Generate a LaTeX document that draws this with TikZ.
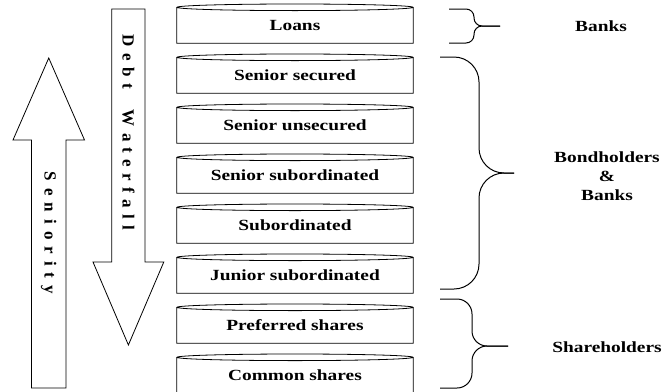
\documentclass[tikz,border=0pt]{standalone}
\usepackage{fontspec}
\setmainfont{Liberation Serif}[FakeStretch=1.25]
\newfontfamily\arrowfont{Liberation Serif}
\usetikzlibrary{positioning}
\tikzset {
  % one layer of the capital structure
  tranche/.style = {
    minimum width = 236pt,
    minimum height = 35.5pt,
    inner sep = 0,
    text height = 10pt,
    text depth = 0pt,
    font = \fontsize{15.5}{18}\selectfont\bfseries
  },
  tranche outline/.style = {
    draw = black,
    line width = 0.8pt
  },
  % the two hollow arrows on the left
  big arrow/.style = {
    draw = black,
    line width = 0.8pt
  },
  arrow text/.style = {
    rotate = -90,
    inner sep = 0,
    font = \arrowfont\bfseries\fontsize{17}{20}\selectfont
  },
  % who holds which layers
  holder/.style = {
    align = center,
    font = \fontsize{15.5}{19}\selectfont\bfseries
  },
  holder brace/.style = {
    draw = black,
    line width = 1pt,
    rounded corners = #1
  },
  node distance = 14.1pt
}

\begin{document}
\begin{tikzpicture}[x=1pt, y=-1pt]
    \useasboundingbox (0,0) rectangle (666,391);

    \node[tranche] (loans) at (295,25.25) {Loans};
    \node[tranche] (secured) [below=of loans] {Senior secured};
    \node[tranche] (unsecured) [below=of secured] {Senior unsecured};
    \node[tranche] (seniorsub) [below=of unsecured] {Senior subordinated};
    \node[tranche] (sub) [below=of seniorsub] {Subordinated};
    \node[tranche] (juniorsub) [below=of sub] {Junior subordinated};
    \node[tranche] (preferred) [below=of juniorsub] {Preferred shares};
    \node[tranche] (common) [below=of preferred] {Common shares};

    \foreach \layer in {loans,secured,unsecured,seniorsub,sub,juniorsub,preferred,common}
      \draw[tranche outline] (\layer.north west) -- (\layer.south west)
        -- (\layer.south east) -- (\layer.north east)
        (\layer.north) ellipse [x radius=118pt, y radius=3.3pt];

    % seniority points up, the waterfall runs down
    \draw[big arrow] (31.5,388) -- (31.5,140) -- (13,140) -- (48.75,58)
      -- (84.5,140) -- (66,140) -- (66,388) -- cycle;
    \draw[big arrow] (111.7,9) -- (111.7,262) -- (93,262) -- (128.4,345)
      -- (163.8,262) -- (145,262) -- (145,9) -- cycle;

    \node[arrow text] (seniority) at (48.75,233)
      {\spaceskip=7pt\relax S e n i o r i t y};
    \node[arrow text] (waterfall) at (128.4,132.5)
      {\spaceskip=6.3pt\relax D e b t\hspace{21pt}W a t e r f a l l};

    \draw[holder brace=8pt] (449,9) -- (474,9) -- (474,26) -- (500,26);
    \draw[holder brace=8pt] (449,43) -- (474,43) -- (474,26) -- (500,26);
    \draw[holder brace=25pt] (440,57) -- (479,57) -- (479,173) -- (514,173);
    \draw[holder brace=25pt] (440,289) -- (479,289) -- (479,173) -- (514,173);
    \draw[holder brace=15pt] (440,299) -- (472,299) -- (472,346) -- (508,346);
    \draw[holder brace=15pt] (440,388) -- (472,388) -- (472,346) -- (508,346);

    \node[holder] (banks) at (601,26) {Banks};
    \node[holder] (bondholders) at (607,176) {Bondholders\\\&\\Banks};
    \node[holder] (shareholders) at (607,347) {Shareholders};
\end{tikzpicture}
\end{document}
